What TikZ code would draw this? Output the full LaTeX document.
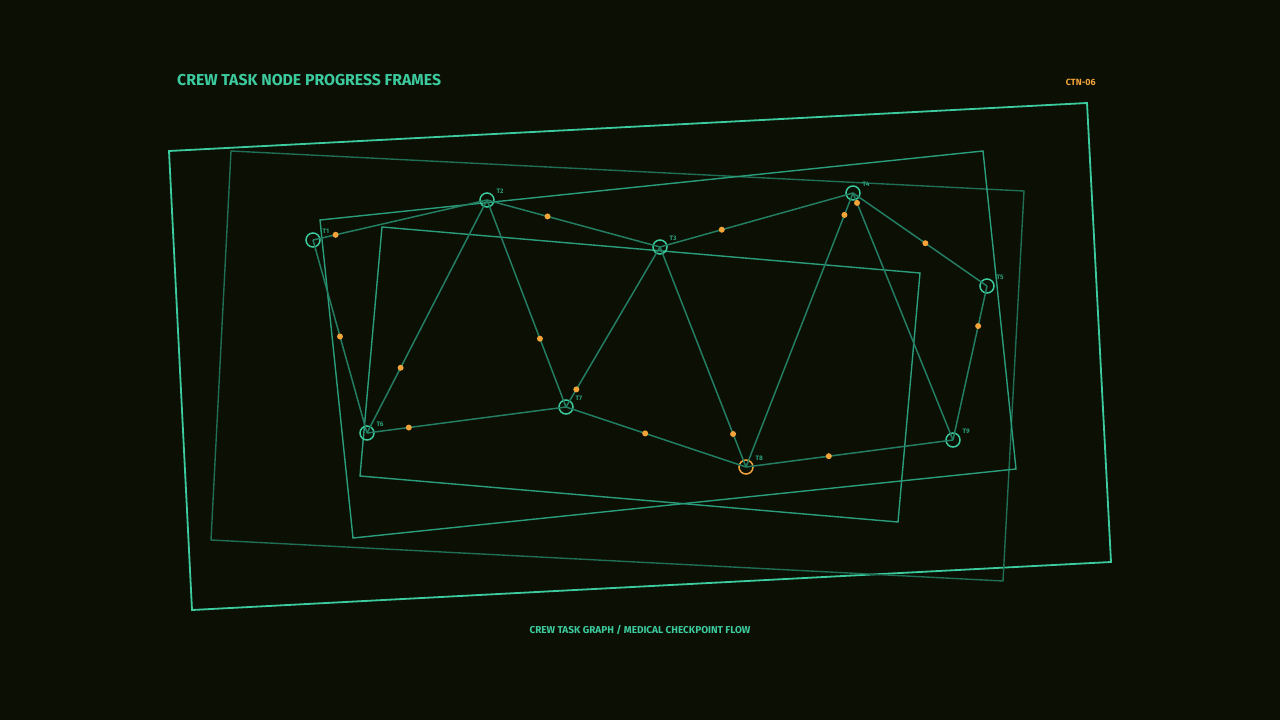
\documentclass[tikz,border=0pt]{standalone}
\usepackage{fontspec}
\setmainfont{Fira Sans}
\usepackage{tikz}
\usetikzlibrary{positioning,calc}

\definecolor{bgdark}{HTML}{0C0F04}
\definecolor{tealhi}{HTML}{3CCB9E}
\definecolor{tealmid}{HTML}{2A9E7C}
\definecolor{tealdim}{HTML}{1F6E55}
\definecolor{edgeteal}{HTML}{237D62}
\definecolor{ambr}{HTML}{F2A33A}

\tikzset{
  task/.style={circle, draw=tealhi, minimum size=14pt, inner sep=0pt, line width=1.5pt},
  taskhot/.style={task, draw=ambr},
  tlabel/.style={font=\fontsize{6.5}{7}\selectfont\bfseries, text=tealmid, inner sep=0pt},
  flow/.style={draw=edgeteal, line width=1.5pt},
  pdot/.style={circle, fill=ambr, minimum size=6pt, inner sep=0pt},
  outerframe/.style={draw=tealhi, line width=1.8pt},
  midframe/.style={draw=tealmid, line width=1.4pt},
  dimframe/.style={draw=tealdim, line width=1.4pt}
}

\begin{document}
\begin{tikzpicture}[x=1pt, y=-1pt]
            \fill[bgdark] (0,0) rectangle (1280,720);
            \useasboundingbox (0,0) rectangle (1280,720);
            % rahmen (progress frames)
            \draw[outerframe] (169,151) -- (1087,103) -- (1111,562) -- (192,610) -- cycle;
            \draw[dimframe] (231,151) -- (1024,191) -- (1003,581) -- (211,540) -- cycle;
            \draw[midframe] (320,220) -- (983,151) -- (1016,469) -- (353,538) -- cycle;
            \draw[midframe] (382,227) -- (920,273) -- (898,522) -- (360,476) -- cycle;
            % task nodes
            \node[task] (T1) at (313,240) {};
            \node[task] (T2) at (487,200) {};
            \node[task] (T3) at (660,247) {};
            \node[task] (T4) at (853,193) {};
            \node[task] (T5) at (987,286) {};
            \node[task] (T6) at (367,433) {};
            \node[task] (T7) at (566,407) {};
            \node[taskhot] (T8) at (746,467) {};
            \node[task] (T9) at (953,440) {};
            % labels, upper right of each node
            \foreach \t in {T1,T2,T3,T4,T5,T6,T7,T8,T9}
              \node[tlabel, above right=1pt and 4pt of \t] (l\t) {\t};
            % edges, centre to centre, with progress dots
            \path[flow] (T1.center) -- node[pdot, pos=0.13] (d12) {} (T2.center);
            \path[flow] (T1.center) -- node[pdot, pos=0.50] (d16) {} (T6.center);
            \path[flow] (T2.center) -- node[pdot, pos=0.35] (d23) {} (T3.center);
            \path[flow] (T2.center) -- node[pdot, pos=0.72] (d26) {} (T6.center);
            \path[flow] (T2.center) -- node[pdot, pos=0.67] (d27) {} (T7.center);
            \path[flow] (T3.center) -- node[pdot, pos=0.32] (d34) {} (T4.center);
            \path[flow] (T3.center) -- node[pdot, pos=0.89] (d37) {} (T7.center);
            \path[flow] (T3.center) -- node[pdot, pos=0.85] (d38) {} (T8.center);
            \path[flow] (T4.center) -- node[pdot, pos=0.54] (d45) {} (T5.center);
            \path[flow] (T4.center) -- node[pdot, pos=0.08] (d48) {} (T8.center);
            \path[flow] (T4.center) -- node[pdot, pos=0.04] (d49) {} (T9.center);
            \path[flow] (T5.center) -- node[pdot, pos=0.26] (d59) {} (T9.center);
            \path[flow] (T6.center) -- node[pdot, pos=0.21] (d67) {} (T7.center);
            \path[flow] (T7.center) -- node[pdot, pos=0.44] (d78) {} (T8.center);
            \path[flow] (T8.center) -- node[pdot, pos=0.40] (d89) {} (T9.center);
            % titel und fusszeile
            \node[anchor=west, font=\fontsize{15.8}{17}\selectfont\bfseries, text=tealhi, inner sep=0pt] (title) at (177,80) {CREW TASK NODE PROGRESS FRAMES};
            \node[anchor=east, font=\fontsize{9}{10}\selectfont\bfseries, text=ambr, inner sep=0pt] (code) at (1096,82) {CTN-06};
            \node[font=\fontsize{10}{11}\selectfont\bfseries, text=tealhi, inner sep=0pt] (footer) at (640,630) {CREW TASK GRAPH / MEDICAL CHECKPOINT FLOW};
        \end{tikzpicture}
\end{document}
